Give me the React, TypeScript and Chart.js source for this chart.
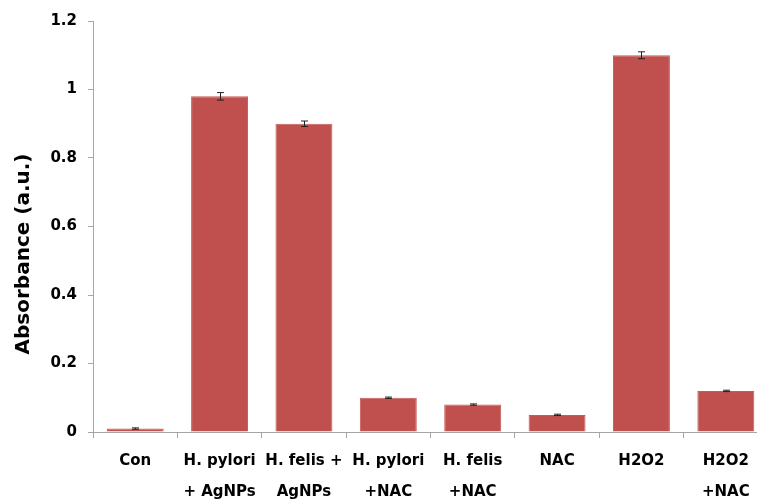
import React, { useEffect, useRef } from "react";
import { Chart, registerables } from "chart.js";

Chart.register(...registerables);

const categories: (string | string[])[] = [
  "Con",
  ["H. pylori", "+ AgNPs"],
  ["H. felis +", "AgNPs"],
  ["H. pylori", "+NAC"],
  ["H. felis", "+NAC"],
  "NAC",
  "H2O2",
  ["H2O2", "+NAC"],
];
const absorbance = [0.01, 0.98, 0.9, 0.1, 0.08, 0.05, 1.1, 0.12];
const errors = [0.002, 0.011, 0.008, 0.002, 0.002, 0.002, 0.01, 0.002];
const yTicks = [0, 0.2, 0.4, 0.6, 0.8, 1, 1.2];
const yTitle = "Absorbance (a.u.)";

const FONT = "'DejaVu Sans', sans-serif";

const errorBarPlugin = {
  id: "errorBars",
  afterDatasetsDraw(chart: any) {
    const meta = chart.getDatasetMeta(0);
    const y = chart.scales.y;
    const ctx = chart.ctx;
    ctx.save();
    ctx.strokeStyle = "#222";
    ctx.lineWidth = 1;
    meta.data.forEach((bar: any, i: number) => {
      const v = absorbance[i];
      const e = errors[i];
      const x = Math.round(bar.x) + 0.5;
      const yTop = y.getPixelForValue(v + e);
      const yBot = y.getPixelForValue(v - e);
      ctx.beginPath();
      ctx.moveTo(x, yTop);
      ctx.lineTo(x, yBot);
      ctx.moveTo(x - 3.5, yTop);
      ctx.lineTo(x + 3.5, yTop);
      ctx.moveTo(x - 3.5, yBot);
      ctx.lineTo(x + 3.5, yBot);
      ctx.stroke();
    });
    ctx.restore();
  },
};

const titlePlugin = {
  id: "yTitleText",
  afterDraw(chart: any) {
    const ctx = chart.ctx;
    ctx.save();
    ctx.translate(24, 254);
    ctx.rotate(-Math.PI / 2);
    ctx.font = `bold 20px ${FONT}`;
    ctx.fillStyle = "#000";
    ctx.textAlign = "center";
    ctx.textBaseline = "middle";
    ctx.fillText(yTitle, 0, 0);
    ctx.restore();
  },
};

export default function App() {
  const ref = useRef<HTMLCanvasElement>(null);
  useEffect(() => {
    if (!ref.current) return;
    const chart = new Chart(ref.current, {
      type: "bar",
      data: {
        labels: categories,
        datasets: [
          {
            data: absorbance,
            backgroundColor: "#C0504D",
            borderColor: "#C65B58",
            borderWidth: 1,
            barPercentage: 0.675,
            categoryPercentage: 1,
          },
        ],
      },
      options: {
        animation: false,
        responsive: false,
        devicePixelRatio: 1,
        layout: { padding: { top: 21, right: 7, left: 0, bottom: 0 } },
        plugins: { legend: { display: false }, tooltip: { enabled: false } },
        scales: {
          x: {
            offset: true,
            grid: {
              offset: true,
              drawOnChartArea: false,
              drawTicks: true,
              tickLength: 6,
              color: "#a6a6a6",
            },
            border: { color: "#a6a6a6" },
            ticks: {
              color: "#000",
              padding: 8,
              autoSkip: false,
              maxRotation: 0,
              font: { family: FONT, size: 15, weight: "bold", lineHeight: 2.06 },
            },
            afterFit(scale: any) {
              scale.height = 67;
            },
          },
          y: {
            min: 0,
            max: 1.2,
            afterBuildTicks(scale: any) {
              scale.ticks = yTicks.map((v) => ({ value: v }));
            },
            grid: {
              drawOnChartArea: false,
              drawTicks: true,
              tickLength: 5,
              color: "#a6a6a6",
            },
            border: { color: "#a6a6a6" },
            ticks: {
              color: "#000",
              padding: 11,
              font: { family: FONT, size: 15, weight: "bold" },
              callback: (v: any) => String(Math.round(Number(v) * 10) / 10),
            },
            afterFit(scale: any) {
              scale.width = 93;
            },
          },
        },
      },
      plugins: [errorBarPlugin, titlePlugin],
    });
    return () => chart.destroy();
  }, []);
  return (
    <div
      style={{
        position: "fixed",
        left: 0,
        top: 0,
        width: 757,
        height: 499,
        overflow: "hidden",
        background: "#fff",
      }}
    >
      <canvas ref={ref} width={775} height={499} style={{ display: "block", width: 775, height: 499 }} />
    </div>
  );
}
